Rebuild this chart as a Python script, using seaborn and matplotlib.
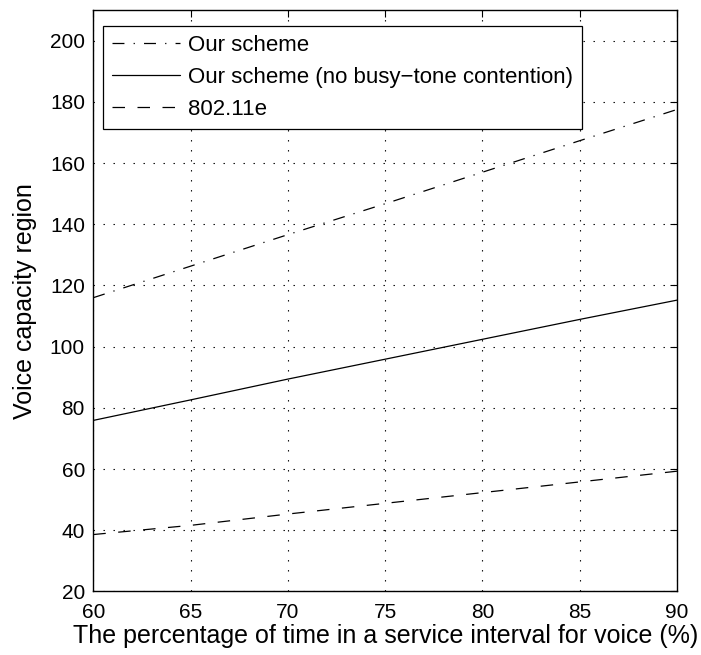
import matplotlib
matplotlib.use("Agg")
import matplotlib.pyplot as plt
import seaborn as sns
import pandas as pd

# Share of each service interval given to voice traffic (%)
voice_share = [60, 65, 70, 75, 80, 85, 90]

# Voice capacity region for each scheme
our_scheme = [116.0, 126.3, 136.6, 146.7, 157.0, 167.3, 177.5]
our_scheme_no_bt = [75.9, 82.6, 89.4, 95.9, 102.4, 108.9, 115.2]
edca_80211e = [38.6, 41.6, 45.3, 48.8, 52.3, 55.8, 59.3]

series_names = ["Our scheme", "Our scheme (no busy\u2212tone contention)", "802.11e"]

x_ticks = [60, 65, 70, 75, 80, 85, 90]
y_ticks = [20, 40, 60, 80, 100, 120, 140, 160, 180, 200]

df = pd.DataFrame({
    "share": voice_share * 3,
    "capacity": our_scheme + our_scheme_no_bt + edca_80211e,
    "scheme": [series_names[0]] * 7 + [series_names[1]] * 7 + [series_names[2]] * 7,
})

sns.set_style("white")
plt.rcParams["font.family"] = ["Liberation Sans", "DejaVu Sans"]
plt.rcParams["xtick.direction"] = "in"
plt.rcParams["ytick.direction"] = "in"
plt.rcParams["lines.scale_dashes"] = False
for key in ["text.color", "axes.labelcolor", "xtick.color", "ytick.color",
            "xtick.labelcolor", "ytick.labelcolor"]:
    plt.rcParams[key] = "black"

fig = plt.figure(figsize=(7.01, 6.55), dpi=100)
ax = fig.add_axes([0.1331, 0.0970, 0.8327, 0.8877])

sns.lineplot(
    data=df, x="share", y="capacity", hue="scheme", style="scheme",
    palette=["black", "black", "black"],
    dashes={series_names[0]: (8.6, 6.6, 0.9, 6.6), series_names[1]: "", series_names[2]: (9, 9)},
    linewidth=0.9, ax=ax, legend=True,
)

ax.set_xlim(60, 90)
ax.set_ylim(20, 210)
ax.set_xticks(x_ticks)
ax.set_yticks(y_ticks)
ax.tick_params(axis="both", labelsize=15, length=5, width=0.8, color="black",
               labelcolor="black", top=True, right=True)
ax.tick_params(axis="y", pad=6)
ax.tick_params(axis="x", pad=8)
ax.grid(True, linestyle=(0, (1, 6.2)), color="black", linewidth=0.8)
for s in ax.spines.values():
    s.set_color("black")
    s.set_linewidth(1.0)

ax.set_xlabel("The percentage of time in a service interval for voice (%)", fontsize=18,
              labelpad=2, color="black")
ax.set_ylabel("Voice capacity region", fontsize=18, labelpad=9, color="black")

leg = ax.legend(loc="upper left", bbox_to_anchor=(10 / 584, 1 - 16 / 581), borderaxespad=0,
                fontsize=16, handlelength=3.05, handletextpad=0.37,
                fancybox=False, framealpha=1, edgecolor="black",
                labelspacing=0.5, borderpad=0.4)
leg.get_frame().set_linewidth(0.9)
for t in leg.get_texts():
    t.set_color("black")

fig.savefig("out.png", dpi=100)
